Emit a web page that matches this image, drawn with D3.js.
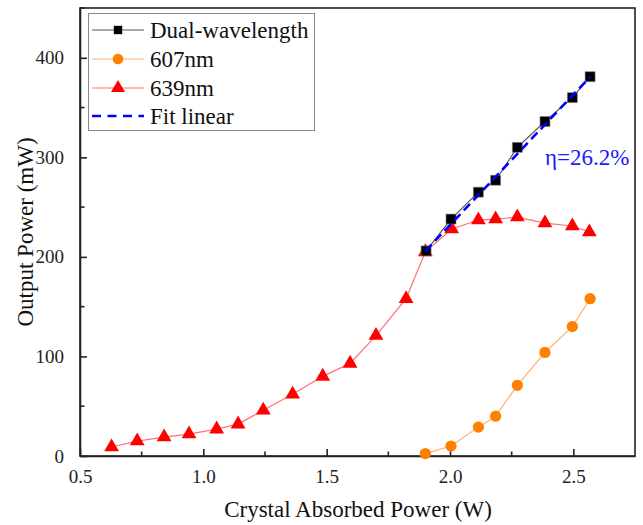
<!DOCTYPE html>
<html><head><meta charset="utf-8">
<script src="https://cdn.jsdelivr.net/npm/d3@7"></script>
<style>body{margin:0;background:#fff}svg{display:block}svg text{font-family:"Liberation Serif","Times New Roman",serif !important}</style>
</head><body><svg id="c" width="643" height="525"></svg>
<script>
const dualX = [1.903, 2.004, 2.115, 2.185, 2.273, 2.385, 2.496, 2.568];
const dualY = [206, 238, 265, 277, 310, 336, 360, 381];
const x607 = [1.900, 2.004, 2.115, 2.185, 2.273, 2.385, 2.496, 2.568];
const y607 = [2.4, 10, 29, 40, 71, 104, 130, 158];
const x639 = [0.628, 0.732, 0.841, 0.942, 1.054, 1.141, 1.243, 1.362, 1.484, 1.595, 1.700, 1.822, 1.900, 2.007, 2.115, 2.185, 2.273, 2.385, 2.496, 2.565];
const y639 = [9, 15, 19, 22, 27, 32, 46, 62, 80, 93, 121, 158, 205, 228, 237, 238, 240, 234, 231, 225];
const fitX = [1.90, 2.568];
const fitY = [205.8, 380.8];
const xTicks = [0.5, 1.0, 1.5, 2.0, 2.5];
const yTicks = [0, 100, 200, 300, 400];
const legendLabels = ["Dual-wavelength", "607nm", "639nm", "Fit linear"];
const etaLabel = "η=26.2%";

const svg = d3.select("#c");
const L = 80, R = 635, T = 8, B = 456;
const x = d3.scaleLinear().domain([0.5, 2.75]).range([L, R]);
const y = d3.scaleLinear().domain([0, 450]).range([B, T]);

const colDual = "#000", colDualLine = "#555";
const col607 = "#ff8000", col607Line = "#ffb070";
const col639 = "#ff0000", col639Line = "#ff7070";
const colFit = "#0000ff";
const serif = '"Liberation Serif", serif';

svg.append("rect").attr("x", L).attr("y", T).attr("width", R - L).attr("height", B - T)
  .attr("fill", "none").attr("stroke", "#222").attr("stroke-width", 1.6);

const xAxis = d3.axisBottom(x).tickValues(xTicks).tickFormat(d3.format(".1f")).tickSizeInner(-7).tickSizeOuter(0).tickPadding(14);
const gx = svg.append("g").attr("transform", `translate(0,${B})`).call(xAxis);
const yAxis = d3.axisLeft(y).tickValues(yTicks).tickFormat(d3.format("d")).tickSizeInner(-7).tickSizeOuter(0).tickPadding(16);
const gy = svg.append("g").attr("transform", `translate(${L},0)`).call(yAxis);
[gx, gy].forEach(g => {
  g.attr("font-family", null).attr("font-size", null);
  g.select(".domain").attr("stroke", "#222").attr("stroke-width", 1.6);
  g.selectAll(".tick line").attr("stroke", "#222").attr("stroke-width", 1.6);
  g.selectAll(".tick text").style("font-size", "19px").style("font-family", serif).attr("fill", "#222");
});
const xMinor = xTicks.slice(0, -1).map(d => d + 0.25);
xMinor.forEach(d => svg.append("line").attr("x1", x(d)).attr("x2", x(d)).attr("y1", B).attr("y2", B - 4.5).attr("stroke", "#222").attr("stroke-width", 1.6));
const yMinor = yTicks.map(d => d + 50);
yMinor.forEach(d => svg.append("line").attr("x1", L).attr("x2", L + 4.5).attr("y1", y(d)).attr("y2", y(d)).attr("stroke", "#222").attr("stroke-width", 1.6));

svg.append("text").attr("x", 358).attr("y", 517).attr("text-anchor", "middle").style("font-size", "23px").attr("fill", "#111").text("Crystal Absorbed Power (W)");
svg.append("text").attr("transform", "translate(33,232) rotate(-90)").attr("text-anchor", "middle").style("font-size", "23px").attr("fill", "#111").text("Output Power (mW)");

const line = d3.line().x(d => x(d[0])).y(d => y(d[1]));
const pts = (xs, ys) => xs.map((v, i) => [v, ys[i]]);
const dual = pts(dualX, dualY), p607 = pts(x607, y607), p639 = pts(x639, y639), fit = pts(fitX, fitY);

svg.append("path").datum(p639).attr("d", line).attr("fill", "none").attr("stroke", col639Line).attr("stroke-width", 1.2);
svg.append("path").datum(p607).attr("d", line).attr("fill", "none").attr("stroke", col607Line).attr("stroke-width", 1.2);
svg.append("path").datum(dual).attr("d", line).attr("fill", "none").attr("stroke", colDualLine).attr("stroke-width", 1.2);

const tri = d3.symbol().type(d3.symbolTriangle).size(95);
const circ = d3.symbol().type(d3.symbolCircle).size(100);
const sq = d3.symbol().type(d3.symbolSquare).size(100);

svg.append("g").selectAll("path").data(p639).join("path").attr("d", tri)
  .attr("transform", d => `translate(${x(d[0])},${y(d[1])})`).attr("fill", col639);
svg.append("g").selectAll("path").data(p607).join("path").attr("d", circ)
  .attr("transform", d => `translate(${x(d[0])},${y(d[1])})`).attr("fill", col607);
svg.append("g").selectAll("path").data(dual).join("path").attr("d", sq)
  .attr("transform", d => `translate(${x(d[0])},${y(d[1])})`).attr("fill", colDual).attr("stroke", "#888").attr("stroke-width", 0.6);

svg.append("path").datum(fit).attr("d", line).attr("fill", "none").attr("stroke", colFit)
  .attr("stroke-width", 2.6).attr("stroke-dasharray", "9,5");

svg.append("text").attr("x", 545).attr("y", 165).style("font-size", "23px").attr("fill", "#1a1aff").text(etaLabel);

const lg = svg.append("g");
lg.append("rect").attr("x", 88.5).attr("y", 13.5).attr("width", 226).attr("height", 117)
  .attr("fill", "#fff").attr("stroke", "#888").attr("stroke-width", 1);
const rows = [30, 59, 88, 116];
const lineCols = [colDualLine, col607Line, col639Line, colFit];
const markCols = [colDual, col607, col639, null];
const markSym = [d3.symbol().type(d3.symbolSquare).size(70), d3.symbol().type(d3.symbolCircle).size(90), d3.symbol().type(d3.symbolTriangle).size(85), null];
legendLabels.forEach((lab, i) => {
  const yy = rows[i];
  const ln = lg.append("line").attr("x1", 92).attr("x2", 144).attr("y1", yy).attr("y2", yy).attr("stroke", lineCols[i]);
  if (i === 3) ln.attr("stroke-width", 2.4).attr("stroke-dasharray", "9,6.5");
  else ln.attr("stroke-width", 1.2);
  if (markSym[i]) lg.append("path").attr("d", markSym[i]).attr("transform", `translate(118,${yy})`).attr("fill", markCols[i]);
  lg.append("text").attr("x", 150).attr("y", yy + 7.5).style("font-size", "23px").attr("fill", "#111").text(lab);
});
</script></body></html>
